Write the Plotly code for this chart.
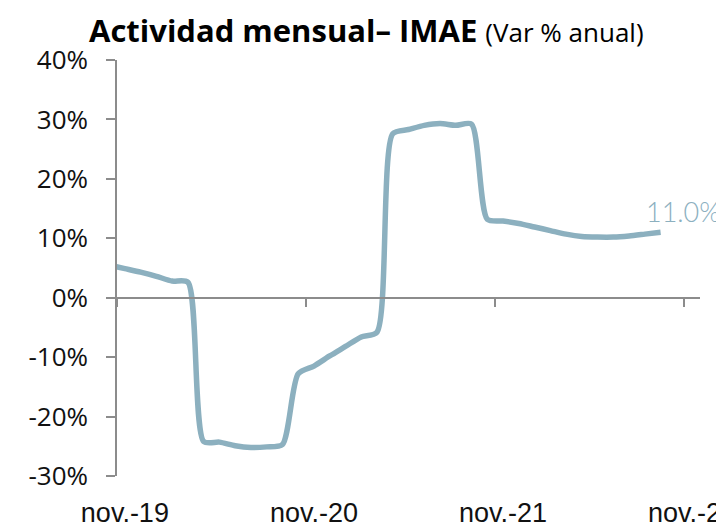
import plotly.graph_objects as go

# Monthly data: index 0 = nov.-19 (index -1 = oct.-19, clipped by the axis)
month_index = list(range(-1, 35))
imae_var = [5.5, 4.9, 4.3, 3.6, 2.8, 2.6,
            -24.2, -24.3, -24.9, -25.2, -25.1, -24.7,
            -12.8, -11.5, -9.8, -8.2, -6.6, -5.8,
            27.6, 28.3, 29.0, 29.3, 29.0, 29.2,
            13.2, 12.9, 12.5, 11.9, 11.3, 10.7,
            10.3, 10.2, 10.2, 10.4, 10.7, 11.0]

label_pos = [0, 12, 24, 36]
label_text = ["nov.-19", "nov.-20", "nov.-21", "nov.-22"]
tick_pos = [-0.5, 11.5, 23.5, 35.5]
y_ticks = [-30, -20, -10, 0, 10, 20, 30, 40]
y_text = [f"{v}%" for v in y_ticks]
last_label = "11.0%"

line_color = "#8CB0BF"
axis_color = "#8C8C8C"

# page body has an 8px margin; figure is sized/positioned to compensate
W, H = 716, 519
ML, MT, MR, MB = 109, 52, 24, 51

fig = go.Figure()
fig.add_trace(go.Scatter(
    x=month_index, y=imae_var, mode="lines",
    line=dict(color=line_color, width=5.5, shape="spline", smoothing=0.7),
    hoverinfo="skip", showlegend=False))
fig.add_trace(go.Scatter(x=[tick_pos[0]], y=[0], xaxis="x2", mode="markers",
                         marker=dict(opacity=0), showlegend=False, hoverinfo="skip"))

fig.update_layout(
    width=W, height=H,
    margin=dict(l=ML, r=MR, t=MT, b=MB),
    paper_bgcolor="white", plot_bgcolor="white",
    xaxis=dict(range=[-0.5, 36.5], tickvals=label_pos, ticktext=label_text,
               showline=False, showgrid=False, zeroline=False, ticks="",
               automargin=False, ticklabeloverflow="allow",
               tickfont=dict(family="Liberation Sans, Arial", size=27, color="#111"),
               ticklabelstandoff=18),
    xaxis2=dict(range=[-0.5, 36.5], overlaying="x", anchor="free", position=30/70,
                tickvals=tick_pos, showticklabels=False, ticks="outside", ticklen=8,
                tickcolor=axis_color, tickwidth=1.5, showline=True, linecolor=axis_color,
                linewidth=2, showgrid=False, zeroline=False, side="bottom",
                automargin=False),
    yaxis=dict(range=[-30, 40], tickvals=y_ticks, ticktext=y_text,
               showgrid=False, zeroline=False, showline=True, linecolor=axis_color,
               linewidth=1.5, ticks="outside", ticklen=9, tickcolor=axis_color,
               tickwidth=1.5, automargin=False,
               tickfont=dict(family="Open Sans, Noto Sans", size=26, color="#111"),
               ticklabelstandoff=13),
)

fig.add_annotation(x=month_index[-1], y=imae_var[-1], text=last_label,
                   showarrow=False, xanchor="center", yanchor="middle",
                   xshift=22, yshift=21,
                   font=dict(family="Lato", size=27, color=line_color, weight=300))

fig.add_annotation(xref="paper", yref="paper", x=(358 - ML) / (W - ML - MR), y=1,
                   yanchor="bottom", yshift=7, showarrow=False,
                   text="<b>Actividad mensual– IMAE</b> <span style='font-size:26px'>(Var % anual)</span>",
                   font=dict(family="Open Sans", size=31, color="#000"))

fig.write_html("out.html")
